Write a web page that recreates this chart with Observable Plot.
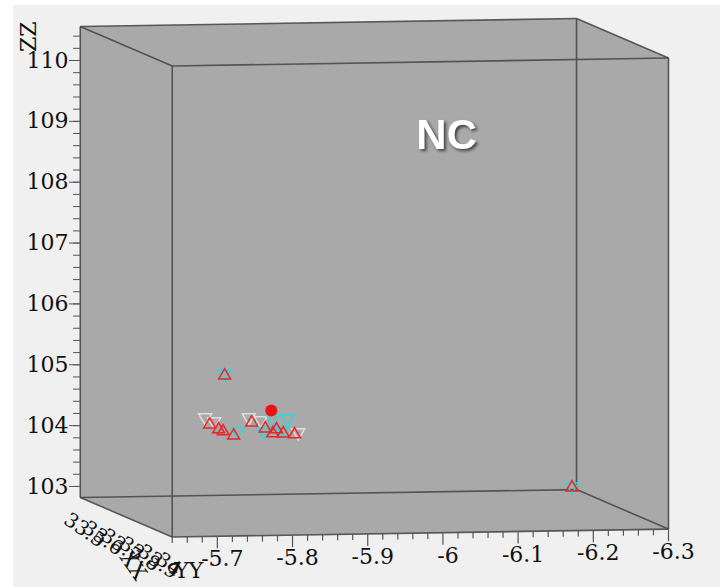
<!DOCTYPE html>
<html><head><meta charset="utf-8">
<script src="https://cdn.jsdelivr.net/npm/d3@7"></script>
<script src="https://cdn.jsdelivr.net/npm/@observablehq/plot@0.6"></script>
<style>
body{margin:0;background:#fff;}
#wrap{position:relative;width:720px;height:587px;overflow:hidden;}
#panel{position:absolute;left:13px;top:5px;width:707px;height:582px;background:#f0f0f0;}
#chart{position:absolute;left:0;top:0;}
</style></head><body>
<div id="wrap"><div id="panel"></div><div id="chart"></div></div>
<script>
// ---- axis ticks and labels ----
const xxTicks = [33.5, 33.6, 33.7, 33.8, 33.9, 34.0];
const xxTickLabels = ["33.5", "33.6", "33.7", "33.8", "33.9", "34"];
const yyTicks = [-5.7, -5.8, -5.9, -6.0, -6.1, -6.2, -6.3];
const yyTickLabels = ["-5.7", "-5.8", "-5.9", "-6", "-6.1", "-6.2", "-6.3"];
const zzTicks = [103, 104, 105, 106, 107, 108, 109, 110];
const zzTickLabels = ["103", "104", "105", "106", "107", "108", "109", "110"];
const axisTitles = ["XX", "YY", "ZZ"];
const panelLabel = "NC";

// ---- box extent (data units) ----
const boxXX = [33.5, 34.0];
const boxYY = [-5.640, -6.300];
const boxZZ = [102.819, 110.559];

// ---- series: red triangles ----
const redXX = [33.5, 33.5, 33.5, 33.5, 33.5, 33.5, 33.5, 33.5, 33.5, 33.5, 33.5, 33.5];
const redYY = [-5.812, -5.824, -5.830, -5.844, -5.868, -5.886, -5.896, -5.901, -5.910, -5.925, -5.832, -6.294];
const redZZ = [103.985, 103.901, 103.867, 103.798, 104.007, 103.905, 103.821, 103.886, 103.818, 103.799, 104.786, 102.855];
// ---- series: cyan inverted triangles ----
const cyanXX = [33.5, 33.5, 33.5, 33.5, 33.5, 33.5, 33.5];
const cyanYY = [-5.832, -5.849, -5.884, -5.896, -5.916, -5.909, -6.294];
const cyanZZ = [104.819, 103.863, 103.856, 104.067, 104.063, 103.867, 102.871];
// ---- series: white inverted triangles ----
const whiteXX = [33.5, 33.5, 33.5, 33.5, 33.5];
const whiteYY = [-5.806, -5.818, -5.864, -5.880, -5.930];
const whiteZZ = [104.101, 104.033, 104.090, 104.038, 103.830];
// ---- single highlighted point ----
const dotXX = [33.5];
const dotYY = [-5.894];
const dotZZ = [104.199];

// oblique projection into plot units (x: YY units, y: ZZ units)
const SHIFT_X = 0.1223, SHIFT_Z = 0.649, TILT = 0.197;
function proj(xx, yy, zz) {
  const t = (xx - boxXX[0]) / (boxXX[1] - boxXX[0]);
  return {x: yy + SHIFT_X * (1 - t), y: zz - SHIFT_Z * t + TILT * (boxYY[0] - yy)};
}
const series = (X, Y, Z) => X.map((v, i) => proj(v, Y[i], Z[i]));

// box corners and edges
const corners = [];
for (const a of boxXX) for (const b of boxYY) for (const c of boxZZ) corners.push({a, b, c, ...proj(a, b, c)});
const edges = [];
for (let i = 0; i < corners.length; i++) for (let j = i + 1; j < corners.length; j++) {
  const p = corners[i], q = corners[j];
  const diff = (p.a !== q.a) + (p.b !== q.b) + (p.c !== q.c);
  if (diff === 1) edges.push({x1: p.x, y1: p.y, x2: q.x, y2: q.y});
}

// bottom (YY) axis ticks along the front-bottom edge
const PXY = 1 / 60.85; // ZZ units per pixel
const yyMinor = d3.range(-5.64, -6.3001, -0.02);
const yyTickMarks = yyMinor.map(v => {
  const p = proj(boxXX[1], v, boxZZ[0]);
  const major = yyTicks.some(t => Math.abs(t - v) < 1e-6);
  return {x1: p.x, y1: p.y, x2: p.x, y2: p.y - (major ? 12 : 6) * PXY};
});
const yyLabelData = yyTicks.map((v, i) => ({...proj(boxXX[1], v, boxZZ[0]), label: yyTickLabels[i]}));
// XX axis labels along the left-bottom edge
const xxLabelData = xxTicks.map((v, i) => ({...proj(v, boxYY[0], boxZZ[0]), label: xxTickLabels[i]}));
const zzMinor = d3.range(103, 110.41, 0.2);

const red = series(redXX, redYY, redZZ);
const cyan = series(cyanXX, cyanYY, cyanZZ);
const white = series(whiteXX, whiteYY, whiteZZ);
const dot = series(dotXX, dotYY, dotZZ);

const serif = "DejaVu Serif";
const chart = Plot.plot({
  width: 720, height: 587,
  marginLeft: 80, marginRight: 52, marginTop: 0, marginBottom: 0,
  x: {domain: [-5.518, -6.3], axis: null},
  y: {domain: [101.340, 110.986], axis: null},
  style: {background: "transparent", fontFamily: serif, fontSize: "22px", color: "#111", overflow: "visible"},
  marks: [
    Plot.hull(corners, {x: "x", y: "y", fill: "#a9a9a9", stroke: "none"}),
    Plot.link(edges, {x1: "x1", y1: "y1", x2: "x2", y2: "y2", stroke: "#4a4a4a", strokeWidth: 1.6, strokeOpacity: 0.9}),
    Plot.axisY(zzMinor, {anchor: "left", tickSize: 7, tickFormat: () => "", stroke: "#555"}),
    Plot.axisY(zzTicks, {anchor: "left", tickSize: 11, tickPadding: 1, stroke: "#555", fill: "#111",
      fontSize: 22, fontFamily: serif, tickFormat: d => zzTickLabels[zzTicks.indexOf(d)]}),
    Plot.link(yyTickMarks, {x1: "x1", y1: "y1", x2: "x2", y2: "y2", stroke: "#555", strokeWidth: 1.2}),
    Plot.text(yyLabelData, {x: "x", y: "y", text: "label", dx: 5, dy: 23, fontSize: 22, fontFamily: serif, fill: "#111"}),
    Plot.text(xxLabelData, {x: "x", y: "y", text: "label", dx: -14, dy: 20, rotate: 35, textAnchor: "start", fontSize: 20, fontFamily: serif, fill: "#111"}),
    Plot.text([axisTitles[0]], {x: -5.588, y: 101.70, text: d => d, rotate: 55, fontSize: 21, fontFamily: serif, fill: "#111"}),
    Plot.text([axisTitles[1]], {x: -5.662, y: 101.62, text: d => d, fontSize: 22, fontFamily: serif, fill: "#111"}),
    Plot.text([axisTitles[2]], {x: -5.450, y: 110.39, text: d => d, rotate: -90, fontSize: 22, fontFamily: serif, fill: "#111"}),
    Plot.dot(white, {x: "x", y: "y", symbol: "triangle", rotate: 180, r: 4.8, stroke: "#f2f2f2", strokeOpacity: 0.75, strokeWidth: 1.5, fill: "none"}),
    Plot.dot(cyan, {x: "x", y: "y", symbol: "triangle", rotate: 180, r: 4.8, stroke: "#33d6d8", strokeWidth: 1.6, fill: "none"}),
    Plot.dot(red, {x: "x", y: "y", symbol: "triangle", r: 4.4, stroke: "#e8262a", strokeWidth: 1.5, fill: "none"}),
    Plot.dot(dot, {x: "x", y: "y", r: 6, fill: "#ee1111", stroke: "none"}),
    Plot.text([panelLabel], {x: -6.005, y: 108.76, text: d => d, fontSize: 42, fontWeight: "bold", fontFamily: "Liberation Sans", fill: "#ffffff"})
  ]
});
d3.select(chart).selectAll("text")
  .filter(function () { return this.textContent === panelLabel; })
  .style("filter", "drop-shadow(2px 2px 1.5px rgba(0,0,0,0.6))");
document.getElementById("chart").appendChild(chart);
</script>
</body></html>
